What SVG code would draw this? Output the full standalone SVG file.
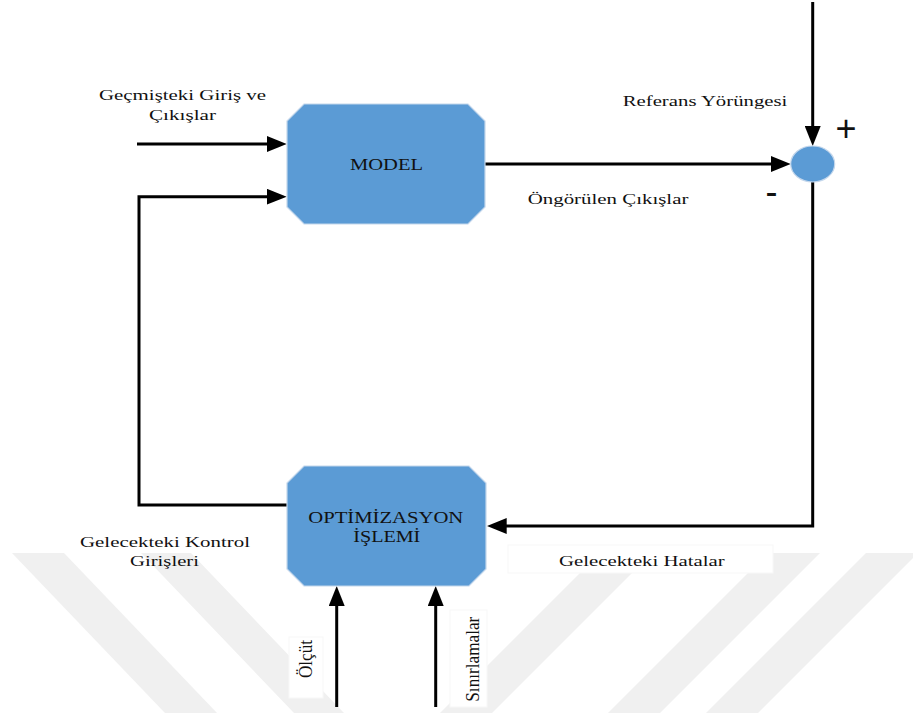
<svg xmlns="http://www.w3.org/2000/svg" width="913" height="713" viewBox="0 0 913 713">
  <defs>
    <style>
      .wm { fill: #f0f0f0; }
      .box { fill: #5b9bd5; stroke: #c4d7ec; stroke-width: 1.2; }
      .wire { fill: none; stroke: #000; stroke-width: 3; stroke-linejoin: miter; }
      .lbl { font-family: "Liberation Serif", "Times New Roman", serif; font-size: 15px; fill: #111; }
      .vlbl { font-family: "Liberation Serif", "Times New Roman", serif; font-size: 18px; fill: #111; }
      .node-txt { font-family: "Liberation Serif", "Times New Roman", serif; font-size: 16px; fill: #111; }
      .sign { font-family: "Liberation Sans", Arial, sans-serif; fill: #111; }
      .tbox { fill: #fff; stroke: #f7f7f7; stroke-width: 1; }
    </style>
    <marker id="arrow" viewBox="0 0 20 16" refX="10" refY="8" markerWidth="20" markerHeight="16" markerUnits="userSpaceOnUse" orient="auto">
      <polygon points="0,0 20,8 0,16" fill="#000"/>
    </marker>
  </defs>

  <rect width="913" height="713" fill="#fff"/>

  <!-- light background mark -->
  <g id="backdrop">
    <polygon class="wm" points="12,553 64,553 217,713 165,713"/>
    <polygon class="wm" points="141,553 191,553 344,713 294,713"/>
    <polygon class="wm" points="600,553 652,553 492,713 440,713"/>
    <polygon class="wm" points="768,553 820,553 660,713 608,713"/>
    <polygon class="wm" points="866,553 913,553 913,558 758,713 706,713"/>
  </g>

  <!-- label backgrounds -->
  <rect class="tbox" x="508" y="545" width="265" height="28"/>
  <rect class="tbox" x="289" y="637" width="34" height="61"/>
  <rect class="tbox" x="450" y="610" width="37" height="97"/>

  <!-- connectors -->
  <g id="connectors">
    <path class="wire" d="M137 144 H276.7" marker-end="url(#arrow)"/>
    <path class="wire" d="M288 505 H139 V196.7 H276.7" marker-end="url(#arrow)"/>
    <path class="wire" d="M485 164 H780.7" marker-end="url(#arrow)"/>
    <path class="wire" d="M812.7 2 V136" marker-end="url(#arrow)"/>
    <path class="wire" d="M812.7 182 V526 H496.7" marker-end="url(#arrow)"/>
    <path class="wire" d="M336.7 707 V596" marker-end="url(#arrow)"/>
    <path class="wire" d="M435.7 707 V596" marker-end="url(#arrow)"/>
  </g>

  <g id="model">
    <polygon class="box" points="304,104 468,104 485,121 485,207 468,224 304,224 287,207 287,121"/>
    <text class="node-txt" x="350" y="170" textLength="73" lengthAdjust="spacingAndGlyphs">MODEL</text>
  </g>

  <g id="optimizasyon">
    <polygon class="box" points="304,466 469,466 486,483 486,569 469,586 304,586 287,569 287,483"/>
    <text class="node-txt" x="308.3" y="522.7" textLength="155" lengthAdjust="spacingAndGlyphs">OPTİMİZASYON</text>
    <text class="node-txt" x="353.3" y="541.7" textLength="67" lengthAdjust="spacingAndGlyphs">İŞLEMİ</text>
  </g>

  <g id="toplam">
    <ellipse class="box" cx="812.7" cy="164" rx="22" ry="18"/>
  </g>

  <!-- labels -->
  <g id="labels">
    <text class="lbl" x="99" y="100" textLength="167" lengthAdjust="spacingAndGlyphs">Geçmişteki Giriş ve</text>
    <text class="lbl" x="149" y="119.5" textLength="67" lengthAdjust="spacingAndGlyphs">Çıkışlar</text>
    <text class="lbl" x="622.7" y="106" textLength="164.7" lengthAdjust="spacingAndGlyphs">Referans Yörüngesi</text>
    <text class="lbl" x="527.7" y="204" textLength="160.7" lengthAdjust="spacingAndGlyphs">Öngörülen Çıkışlar</text>
    <text class="lbl" x="80" y="546.7" textLength="170" lengthAdjust="spacingAndGlyphs">Gelecekteki Kontrol</text>
    <text class="lbl" x="130" y="566" textLength="69" lengthAdjust="spacingAndGlyphs">Girişleri</text>
    <text class="lbl" x="559" y="566" textLength="165.7" lengthAdjust="spacingAndGlyphs">Gelecekteki Hatalar</text>
    <text class="vlbl" transform="translate(312,678) rotate(-90)" x="0" y="0" textLength="38" lengthAdjust="spacingAndGlyphs">Ölçüt</text>
    <text class="vlbl" transform="translate(479,701.7) rotate(-90)" x="0" y="0" textLength="85" lengthAdjust="spacingAndGlyphs">Sınırlamalar</text>
    <text class="sign" x="846" y="141" font-size="36" text-anchor="middle">+</text>
    <text class="sign" x="771.5" y="204" font-size="36" text-anchor="middle">-</text>
  </g>
</svg>
